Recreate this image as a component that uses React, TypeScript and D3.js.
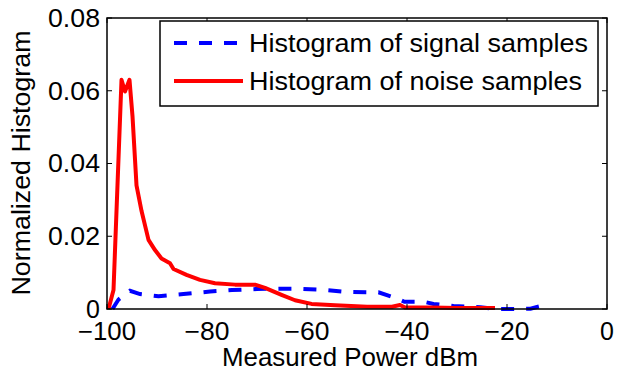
import React from "react";
import * as d3 from "d3";

const xTicks = [-100, -80, -60, -40, -20, 0];
const yTicks = [0, 0.02, 0.04, 0.06, 0.08];
const yTickLabels = ["0", "0.02", "0.04", "0.06", "0.08"];

const signalX = [-98.9, -97.7, -95.4, -93.4, -89.7, -84.7, -79.4, -75, -70, -65, -62.4, -57.1, -52, -45.7, -42, -40.5, -36.7, -34.7, -30.7, -25.3, -22, -18.7, -15.3, -13.3];
const signalY = [0, 0.0026, 0.005, 0.0041, 0.0035, 0.0041, 0.0048, 0.0052, 0.0055, 0.0056, 0.0056, 0.0053, 0.0047, 0.0046, 0.0029, 0.002, 0.002, 0.0014, 0.0008, 0.0005, 0, 0, 0.0001, 0.0008];

const noiseX = [-99.7, -98.7, -97.1, -96.4, -95.5, -94.9, -94.1, -93.1, -91.7, -90.4, -89.1, -87.4, -86.7, -84.1, -81.4, -78.4, -74.4, -70.4, -68.4, -65.1, -62.4, -59.1, -54.4, -48, -43, -41.4, -40.4, -35, -30, -22.4];
const noiseY = [0, 0.0052, 0.063, 0.0598, 0.063, 0.053, 0.034, 0.027, 0.019, 0.0162, 0.0139, 0.0126, 0.011, 0.0094, 0.008, 0.0071, 0.0067, 0.0067, 0.0058, 0.0039, 0.0024, 0.0014, 0.001, 0.0006, 0.0006, 0.0011, 0.0004, 0.0004, 0.0003, 0.0003];

const legendLabels = ["Histogram of signal samples", "Histogram of noise samples"];
const xLabel = "Measured Power dBm";
const yLabel = "Normalized Histogram";

export default function App() {
  const W = 618, H = 372;
  const L = 107, R = 607, T = 18, B = 309;
  const x = d3.scaleLinear().domain([-100, 0]).range([L, R]);
  const y = d3.scaleLinear().domain([0, 0.08]).range([B, T]);
  const line = d3.line<[number, number]>().x(d => x(d[0])).y(d => y(d[1]));
  const sig = signalX.map((v, i) => [v, signalY[i]] as [number, number]);
  const noi = noiseX.map((v, i) => [v, noiseY[i]] as [number, number]);
  const font = "'Liberation Sans', Arial, Helvetica, sans-serif";
  const fs = 25;
  const tl = 5;
  return (
    <svg width={W} height={H} style={{ position: "absolute", left: 0, top: 0, background: "#fff" }} fontFamily={font}>
      <rect x={0} y={0} width={W} height={H} fill="#fff" />
      <path d={line(sig) || ""} fill="none" stroke="#0000ff" strokeWidth={4} strokeDasharray="13 12" />
      <path d={line(noi) || ""} fill="none" stroke="#ff0000" strokeWidth={4} strokeLinejoin="round" />
      <rect x={L} y={T} width={R - L} height={B - T} fill="none" stroke="#000" strokeWidth={1.5} />
      {xTicks.map(t => (
        <g key={"x" + t}>
          <line x1={x(t)} x2={x(t)} y1={B} y2={B - tl} stroke="#000" strokeWidth={1} />
          <line x1={x(t)} x2={x(t)} y1={T} y2={T + tl} stroke="#000" strokeWidth={1} />
          <text x={x(t)} y={340} textAnchor="middle" fontSize={fs} fill="#000" textLength={t === 0 ? undefined : t === -100 ? 58 : 45} lengthAdjust="spacingAndGlyphs">
            {t < 0 ? "\u2212" + Math.abs(t) : String(t)}
          </text>
        </g>
      ))}
      {yTicks.map((t, i) => (
        <g key={"y" + t}>
          <line x1={L} x2={L + tl} y1={y(t)} y2={y(t)} stroke="#000" strokeWidth={1} />
          <line x1={R} x2={R - tl} y1={y(t)} y2={y(t)} stroke="#000" strokeWidth={1} />
          <text x={100} y={y(t)} dy="0.35em" textAnchor="end" fontSize={fs} fill="#000" textLength={i === 0 ? undefined : 52} lengthAdjust="spacingAndGlyphs">
            {yTickLabels[i]}
          </text>
        </g>
      ))}
      <text x={350} y={366} textAnchor="middle" fontSize={fs} fill="#000" textLength={256} lengthAdjust="spacingAndGlyphs">{xLabel}</text>
      <text transform={`translate(30, 163) rotate(-90)`} textAnchor="middle" fontSize={fs} fill="#000" textLength={265} lengthAdjust="spacingAndGlyphs">{yLabel}</text>
      <rect x={160} y={21} width={438} height={85} fill="#fff" stroke="#000" strokeWidth={1.5} />
      <line x1={174} x2={243} y1={43} y2={43} stroke="#0000ff" strokeWidth={4} strokeDasharray="13 12" />
      <line x1={174} x2={243} y1={81} y2={81} stroke="#ff0000" strokeWidth={4} />
      <text x={249} y={43} dy="0.35em" fontSize={fs} fill="#000" textLength={339} lengthAdjust="spacingAndGlyphs">{legendLabels[0]}</text>
      <text x={249} y={81} dy="0.35em" fontSize={fs} fill="#000" textLength={333} lengthAdjust="spacingAndGlyphs">{legendLabels[1]}</text>
    </svg>
  );
}
